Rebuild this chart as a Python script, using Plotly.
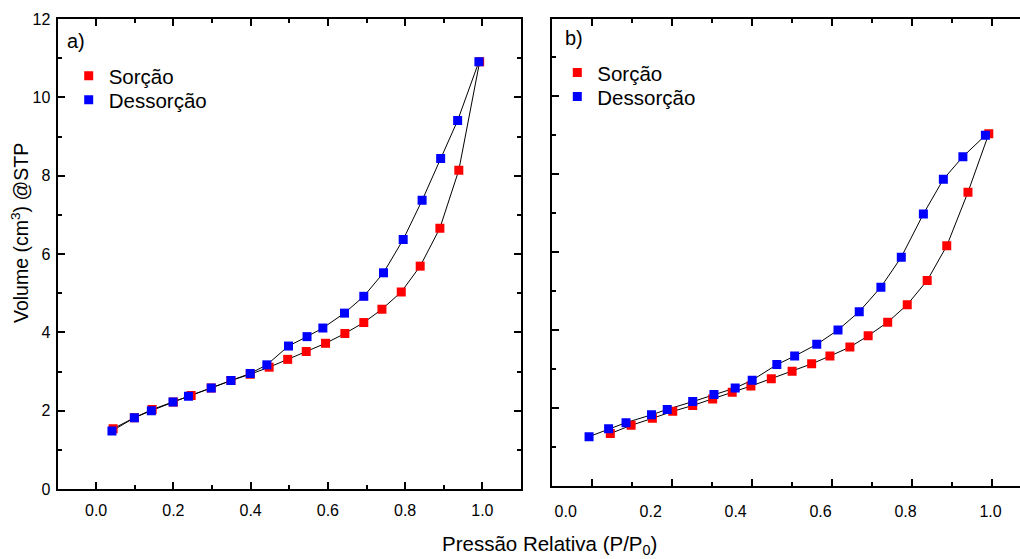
import plotly.graph_objects as go

# ---------------- data ----------------
# panel a)
a_sorcao_x = [0.044, 0.099, 0.145, 0.200, 0.246, 0.298, 0.349, 0.399, 0.448, 0.496,
              0.544, 0.594, 0.644, 0.693, 0.740, 0.790, 0.839, 0.890, 0.939, 0.993]
a_sorcao_y = [1.54, 1.82, 2.03, 2.22, 2.39, 2.58, 2.77, 2.93, 3.11, 3.31,
              3.51, 3.72, 3.97, 4.25, 4.59, 5.03, 5.69, 6.66, 8.14, 10.91]
a_dessorcao_x = [0.041, 0.099, 0.143, 0.199, 0.239, 0.298, 0.349, 0.399, 0.442, 0.498,
                 0.546, 0.587, 0.643, 0.693, 0.744, 0.795, 0.844, 0.892, 0.936, 0.991]
a_dessorcao_y = [1.48, 1.82, 2.00, 2.22, 2.37, 2.58, 2.77, 2.95, 3.17, 3.65,
                 3.89, 4.11, 4.49, 4.92, 5.52, 6.37, 7.37, 8.44, 9.41, 10.91]
# panel b)
b_sorcao_x = [0.105, 0.154, 0.204, 0.252, 0.299, 0.346, 0.392, 0.436, 0.484, 0.533,
              0.579, 0.622, 0.669, 0.712, 0.758, 0.804, 0.851, 0.897, 0.947, 0.996]
b_sorcao_y = [1.34, 1.55, 1.73, 1.91, 2.06, 2.23, 2.40, 2.56, 2.75, 2.94,
              3.13, 3.33, 3.56, 3.85, 4.20, 4.65, 5.27, 6.16, 7.54, 9.04]
b_dessorcao_x = [0.055, 0.101, 0.142, 0.202, 0.239, 0.299, 0.349, 0.399, 0.439, 0.497,
                 0.539, 0.591, 0.641, 0.691, 0.742, 0.790, 0.842, 0.889, 0.935, 0.988]
b_dessorcao_y = [1.26, 1.46, 1.62, 1.82, 1.96, 2.16, 2.34, 2.51, 2.71, 3.11,
                 3.33, 3.63, 4.00, 4.47, 5.10, 5.87, 6.98, 7.87, 8.45, 9.00]

series_names = ["Sorção", "Dessorção"]
panel_labels = ["a)", "b)"]
x_title = "Pressão Relativa (P/P<sub>0</sub>)"
y_title = "Volume (cm<sup>3</sup>) @STP"

# ---------------- layout helpers ----------------
W, H = 1020, 559
FONT = "Liberation Sans, Arial, sans-serif"
RED, BLUE = "#ff0000", "#0000ff"


def fx(p):
    return p / W


def fy(p):
    return 1 - p / H


fig = go.Figure()

# connecting lines (drawn underneath the markers)
for xs, ys, xa, ya in [(a_sorcao_x, a_sorcao_y, "x", "y"),
                       (a_dessorcao_x, a_dessorcao_y, "x", "y"),
                       (b_sorcao_x, b_sorcao_y, "x2", "y2"),
                       (b_dessorcao_x, b_dessorcao_y, "x2", "y2")]:
    fig.add_trace(go.Scatter(x=xs, y=ys, mode="lines", xaxis=xa, yaxis=ya,
                             line=dict(color="black", width=1),
                             showlegend=False, hoverinfo="skip"))

# markers (each entry gets its own legend box for exact placement)
for xs, ys, name, col, xa, ya, lg in [
        (a_sorcao_x, a_sorcao_y, series_names[0], RED, "x", "y", "legend"),
        (a_dessorcao_x, a_dessorcao_y, series_names[1], BLUE, "x", "y", "legend2"),
        (b_sorcao_x, b_sorcao_y, series_names[0], RED, "x2", "y2", "legend3"),
        (b_dessorcao_x, b_dessorcao_y, series_names[1], BLUE, "x2", "y2", "legend4")]:
    fig.add_trace(go.Scatter(x=xs, y=ys, mode="markers", name=name, xaxis=xa, yaxis=ya,
                             legend=lg,
                             marker=dict(symbol="square", size=9, color=col,
                                         line=dict(width=0))))

# empty trace to host the tick-only axis of panel b
fig.add_trace(go.Scatter(x=[], y=[], xaxis="x3", yaxis="y2", showlegend=False,
                         hoverinfo="skip"))

common = dict(showgrid=False, zeroline=False, linecolor="black", linewidth=2,
              tickcolor="black", tickwidth=1.5, color="black", automargin=False)

minor_x = dict(dtick=0.1, tick0=0, ticks="inside", ticklen=4, tickwidth=1.5,
               tickcolor="black", showgrid=False)
minor_y = dict(dtick=1, tick0=0, ticks="inside", ticklen=4, tickwidth=1.5,
               tickcolor="black", showgrid=False)


def leg(xc, yc):
    # legend box placed so the symbol centre lands at pixel (xc, yc)
    return dict(x=fx(xc - 20), y=fy(yc - 19), xanchor="left", yanchor="top",
                bgcolor="rgba(0,0,0,0)", font=dict(size=20.5, family=FONT),
                itemwidth=30)


fig.update_layout(
    width=W, height=H,
    margin=dict(l=0, r=0, t=0, b=0, autoexpand=False),
    paper_bgcolor="white", plot_bgcolor="white",
    font=dict(family=FONT, color="black"),
    xaxis=dict(domain=[fx(57.5), fx(521)], anchor="y", range=[-0.1, 1.1],
               tick0=0, dtick=0.2, tickformat=".1f", ticks="inside", ticklen=7,
               showline=True, mirror="ticks", minor=minor_x,
               tickfont=dict(size=16), ticklabelstandoff=6, **common),
    yaxis=dict(domain=[fy(489), fy(19)], anchor="x", range=[0, 12],
               tick0=0, dtick=2, ticks="inside", ticklen=7,
               showline=True, mirror="ticks", minor=minor_y,
               tickfont=dict(size=16), ticklabelstandoff=2, **common),
    xaxis2=dict(domain=[fx(552), 1], anchor="y2",
                range=[(552 - 565.7) / 424.8, (1020 - 565.7) / 424.8],
                tick0=0, dtick=0.2, tickformat=".1f", ticks="",
                showline=True, mirror=True,
                tickfont=dict(size=16), ticklabelstandoff=10, **common),
    xaxis3=dict(domain=[fx(552), 1], anchor="y2", overlaying="x2",
                range=[-0.1, -0.1 + 468 / 400],
                tick0=0, dtick=0.2, ticks="inside", ticklen=7,
                showticklabels=False, showline=False, mirror="ticks",
                minor=minor_x, **common),
    yaxis2=dict(domain=[fy(485.7), fy(18.5)], anchor="x2", range=[0, 12],
                tick0=0, dtick=2, ticks="inside", ticklen=7,
                showticklabels=False, showline=True, mirror=False,
                minor=minor_y, **common),
    legend=leg(88.7, 75),
    legend2=leg(88.7, 99),
    legend3=leg(577.3, 71.7),
    legend4=leg(577.3, 95.7),
    annotations=[
        dict(text=panel_labels[0], x=fx(76), y=fy(41), xref="paper", yref="paper",
             showarrow=False, font=dict(size=20), xanchor="center", yanchor="middle"),
        dict(text=panel_labels[1], x=fx(574), y=fy(38), xref="paper", yref="paper",
             showarrow=False, font=dict(size=20), xanchor="center", yanchor="middle"),
        dict(text=x_title, x=fx(549), y=fy(545), xref="paper", yref="paper",
             showarrow=False, font=dict(size=20.5), xanchor="center", yanchor="middle"),
        dict(text=y_title, x=fx(20), y=fy(233), xref="paper", yref="paper",
             showarrow=False, font=dict(size=19.5), textangle=-90,
             xanchor="center", yanchor="middle"),
    ],
)

fig.write_html("out.html")
